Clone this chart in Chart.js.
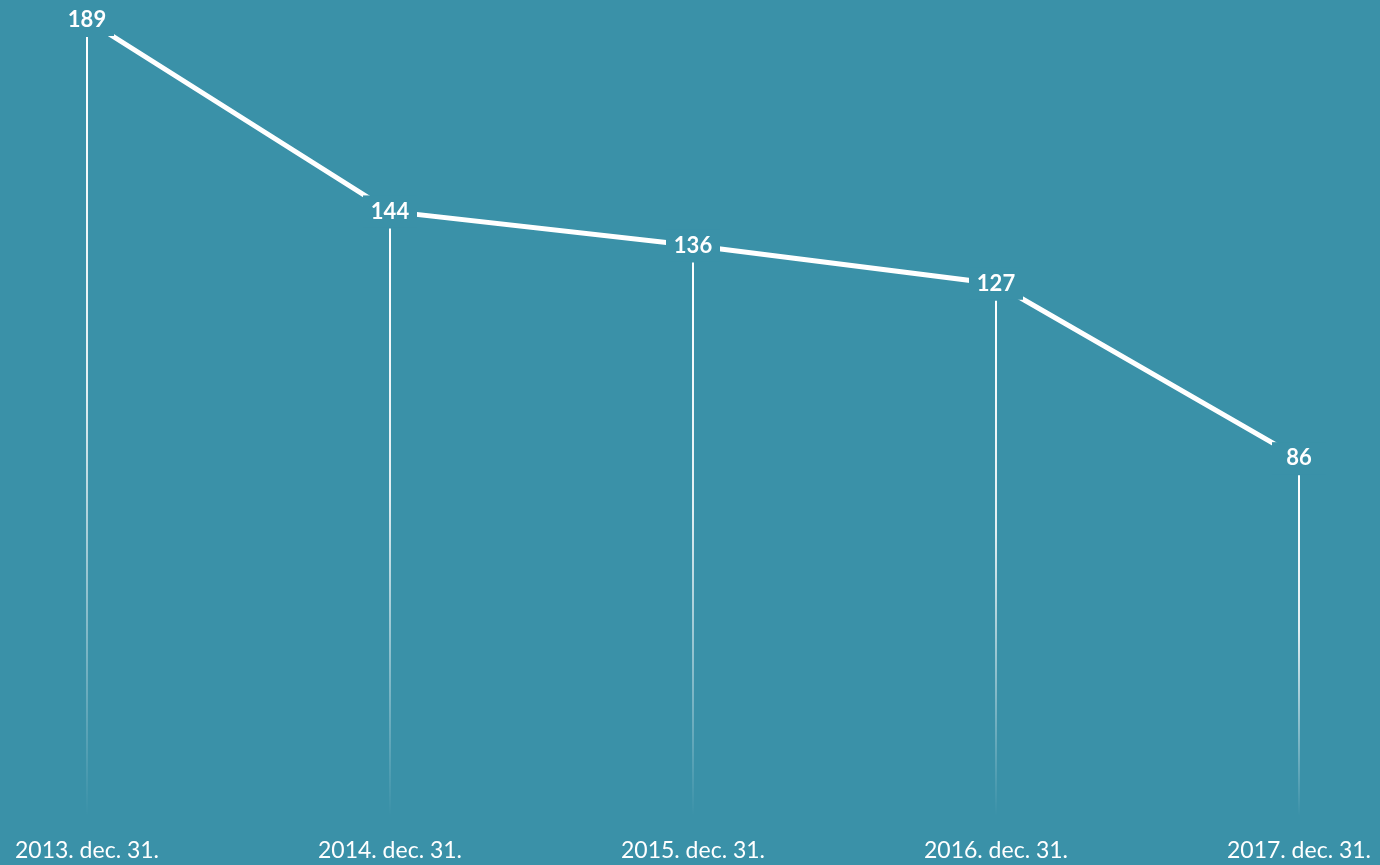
<!DOCTYPE html>
<html>
<head>
<meta charset="utf-8">
<script src="https://cdn.jsdelivr.net/npm/chart.js@4"></script>
<style>
  html,body{margin:0;padding:0;background:#3a91a8;}
  #wrap{width:1380px;height:865px;}
</style>
</head>
<body>
<div id="wrap"><canvas id="c" width="1380" height="865"></canvas></div>
<script>
const categories = ["2013. dec. 31.", "2014. dec. 31.", "2015. dec. 31.", "2016. dec. 31.", "2017. dec. 31."];
const values = [189, 144, 136, 127, 86];

const BG = '#3a91a8';
const FONT = 'Lato, "Open Sans", sans-serif';

const bgPlugin = {
  id: 'bg',
  beforeDraw(chart) {
    const ctx = chart.ctx;
    ctx.save();
    ctx.fillStyle = BG;
    ctx.fillRect(0, 0, chart.width, chart.height);
    ctx.restore();
  }
};

const dropLines = {
  id: 'dropLines',
  beforeDatasetsDraw(chart) {
    const ctx = chart.ctx;
    const meta = chart.getDatasetMeta(0);
    const yScale = chart.scales.y;
    const bottom = yScale.getPixelForValue(0) - 8;
    ctx.save();
    meta.data.forEach(pt => {
      const top = pt.y + 17;
      const g = ctx.createLinearGradient(0, top, 0, bottom);
      g.addColorStop(0, 'rgba(255,255,255,1)');
      g.addColorStop(0.45, 'rgba(255,255,255,0.85)');
      g.addColorStop(1, 'rgba(255,255,255,0)');
      ctx.strokeStyle = g;
      ctx.lineWidth = 2;
      ctx.beginPath();
      ctx.moveTo(Math.round(pt.x), top);
      ctx.lineTo(Math.round(pt.x), bottom);
      ctx.stroke();
    });
    ctx.restore();
  }
};

const valueLabels = {
  id: 'valueLabels',
  afterDatasetsDraw(chart) {
    const ctx = chart.ctx;
    const meta = chart.getDatasetMeta(0);
    ctx.save();
    meta.data.forEach((pt, i) => {
      ctx.fillStyle = BG;
      ctx.fillRect(pt.x - 27, pt.y - 16, 54, 32);
      ctx.fillStyle = '#ffffff';
      ctx.font = 'bold 22px ' + FONT;
      ctx.textAlign = 'center';
      ctx.textBaseline = 'middle';
      ctx.fillText(String(values[i]), pt.x, pt.y);
    });
    ctx.restore();
  }
};

new Chart(document.getElementById('c'), {
  type: 'line',
  data: {
    labels: categories,
    datasets: [{
      data: values,
      borderColor: '#ffffff',
      borderWidth: 5,
      pointRadius: 0,
      pointHoverRadius: 0,
      tension: 0,
      fill: false
    }]
  },
  options: {
    responsive: false,
    animation: false,
    events: [],
    layout: { padding: { left: 87, right: 81, top: 20, bottom: 0 } },
    plugins: { legend: { display: false }, tooltip: { enabled: false } },
    scales: {
      x: {
        offset: false,
        grid: { display: false, drawTicks: false, tickLength: 0 },
        border: { display: false },
        ticks: {
          color: '#ffffff',
          font: { family: FONT, size: 23 },
          padding: 13,
          maxRotation: 0,
          autoSkip: false
        },
        afterFit(scale) {
          scale.height = 41;
          scale.paddingLeft = 0;
          scale.paddingRight = 0;
        }
      },
      y: {
        display: false,
        min: 0,
        max: 189
      }
    }
  },
  plugins: [bgPlugin, dropLines, valueLabels]
});
</script>
</body>
</html>
